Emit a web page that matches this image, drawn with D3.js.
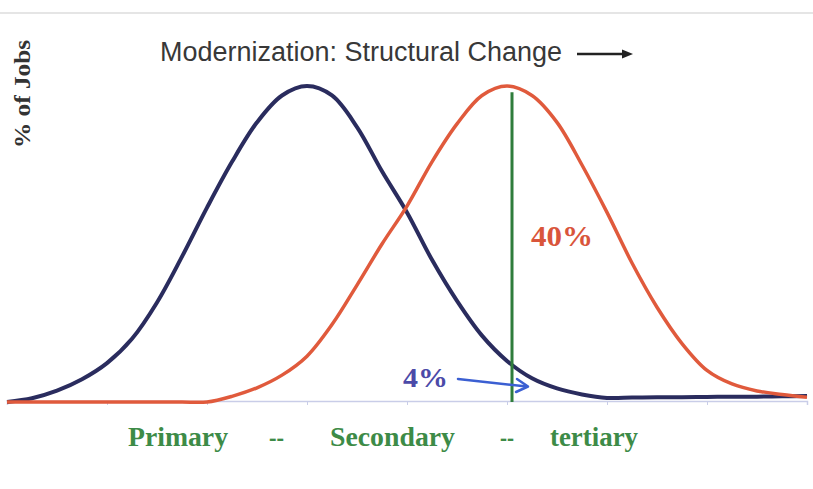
<!DOCTYPE html>
<html>
<head>
<meta charset="utf-8">
<script src="https://cdn.jsdelivr.net/npm/d3@7"></script>
<style>
  body { margin: 0; background: #fff; }
  svg { display: block; }
</style>
</head>
<body>
<div id="chart"></div>
<script>
// position along the primary -> tertiary axis
var xSteps = [0, 0.25, 0.5, 0.75, 1, 1.25, 1.5, 1.75, 2, 2.25, 2.5, 2.75, 3, 3.25, 3.5, 3.75, 4,
              4.25, 4.5, 4.75, 5, 5.25, 5.5, 5.75, 6, 6.25, 6.5, 6.75, 7, 7.25, 7.5, 7.75, 8];
// traditional economy (navy curve)
var traditionalJobs = [0, 1.2, 3.6, 7.2, 12.3, 20, 31.5, 46, 61.5, 76, 88.5, 97, 100, 97, 87, 73, 60,
                       45, 32, 21, 13, 7.5, 4.3, 2.4, 1.3, 1.4, 1.5, 1.5, 1.6, 1.7, 1.7, 1.8, 1.9];
// modernised economy (red curve)
var modernJobs = [0, 0, 0, 0, 0, 0, 0, 0, 0, 1.8, 4.5, 8.5, 14.5, 24.5, 37, 50, 62,
                  76, 88, 97, 100, 97, 88.5, 75, 60, 44, 30, 18.5, 10, 5.7, 3.5, 2.4, 1.5];
var sectorLabels = ["Primary", "--", "Secondary", "--", "tertiary"];
var markerX = 5.05;
var markerLabels = ["4%", "40%"];
var titleText = "Modernization: Structural Change";
var yLabel = "% of Jobs";

var W = 813, H = 489;
var svg = d3.select("#chart").append("svg").attr("width", W).attr("height", H);

var x = d3.scaleLinear().domain([0, 8]).range([7, 807]);
var y = d3.scaleLinear().domain([0, 100]).range([402, 86]);

// faint slide rule at top
svg.append("line").attr("x1", 0).attr("x2", W).attr("y1", 13).attr("y2", 13)
  .style("stroke", "#dcdcdc").style("stroke-width", 1.5);

// axis
var ax = svg.append("g").attr("transform", "translate(0," + (y(0) - 1) + ")")
  .call(d3.axisBottom(x).ticks(8).tickSize(4).tickFormat(""));
ax.select(".domain").style("stroke", "#c9cde8").style("stroke-width", 1.5);
ax.selectAll(".tick line").style("stroke", "#c9cde8");

var pts = function(vals){ return xSteps.map(function(d,i){ return [d, vals[i]]; }); };
var line = d3.line().x(function(d){ return x(d[0]); }).y(function(d){ return y(d[1]); })
  .curve(d3.curveCatmullRom.alpha(0.5));

svg.append("path").datum(pts(traditionalJobs)).attr("d", line)
  .style("fill", "none").style("stroke", "#2a2c5e").style("stroke-width", 4);
svg.append("path").datum(pts(modernJobs)).attr("d", line)
  .style("fill", "none").style("stroke", "#e05a3c").style("stroke-width", 3.5);

// green marker
svg.append("line").attr("x1", x(markerX)).attr("x2", x(markerX))
  .attr("y1", y(98)).attr("y2", y(0))
  .style("stroke", "#2f7d3c").style("stroke-width", 3);

// title + arrow
svg.append("text").attr("x", 160).attr("y", 61).text(titleText)
  .attr("textLength", 402).attr("lengthAdjust", "spacingAndGlyphs")
  .style("font-family", "Liberation Sans, Arial, sans-serif").style("font-size", "27px")
  .style("fill", "#383838");
svg.append("line").attr("x1", 577).attr("x2", 626).attr("y1", 54).attr("y2", 54)
  .style("stroke", "#222").style("stroke-width", 2.5);
svg.append("path").attr("d", "M622,49.5 L633,54 L622,58.5 Z").style("fill", "#222");

// y label
svg.append("text").attr("transform", "translate(30,94) rotate(-90)")
  .attr("text-anchor", "middle").text(yLabel)
  .attr("textLength", 108).attr("lengthAdjust", "spacingAndGlyphs")
  .style("font-family", "Liberation Serif, Times New Roman, serif").style("font-weight", "bold")
  .style("font-size", "23px").style("fill", "#333");

// sector labels
var labelPos = [[128, 100], [269, 15], [330, 125], [500, 14], [550, 88]];
svg.selectAll(".sector").data(sectorLabels).enter().append("text").attr("class", "sector")
  .attr("x", function(d,i){ return labelPos[i][0]; }).attr("y", 446)
  .attr("textLength", function(d,i){ return labelPos[i][1]; })
  .attr("lengthAdjust", "spacingAndGlyphs")
  .text(function(d){ return d; })
  .style("font-family", "Liberation Serif, Times New Roman, serif").style("font-weight", "bold")
  .style("font-size", "27px").style("fill", "#3d8b47");

// 4% and 40%
svg.append("text").attr("x", 403).attr("y", 387).text(markerLabels[0])
  .attr("textLength", 45).attr("lengthAdjust", "spacingAndGlyphs")
  .style("font-family", "Liberation Serif, serif").style("font-weight", "bold")
  .style("font-size", "27px").style("fill", "#4b4aa8");
svg.append("text").attr("x", 531).attr("y", 246).text(markerLabels[1])
  .attr("textLength", 62).attr("lengthAdjust", "spacingAndGlyphs")
  .style("font-family", "Liberation Serif, serif").style("font-weight", "bold")
  .style("font-size", "29px").style("fill", "#d9553b");

// blue arrow for 4%
svg.append("line").attr("x1", 458).attr("y1", 379).attr("x2", 527).attr("y2", 386.5)
  .style("stroke", "#3b5fd2").style("stroke-width", 2.5).style("stroke-linecap", "round");
svg.append("path").attr("d", "M517,379 L528,386.5 L516,392")
  .style("fill", "none").style("stroke", "#3b5fd2").style("stroke-width", 2.5)
  .style("stroke-linecap", "round").style("stroke-linejoin", "round");
</script>
</body>
</html>
